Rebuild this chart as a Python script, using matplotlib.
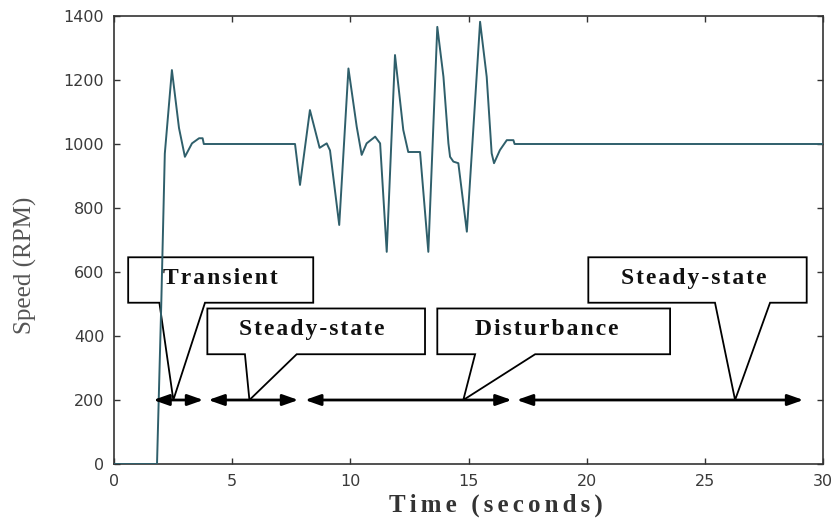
import matplotlib
matplotlib.use("Agg")
import matplotlib.pyplot as plt
from matplotlib.patches import Polygon

# ---- data ----
time_s = [0, 1.82, 2.0, 2.15, 2.45, 2.75, 3.0, 3.3, 3.6, 3.75, 3.8,
          7.66, 7.87, 8.29, 8.7, 9.0, 9.14, 9.53, 9.92, 10.27, 10.48, 10.69,
          11.05, 11.26, 11.54, 11.89, 12.24, 12.45, 12.95, 13.30, 13.68,
          13.94, 14.15, 14.22, 14.36, 14.57, 14.93, 15.49, 15.77, 15.98,
          16.08, 16.33, 16.62, 16.9, 16.95, 30]
speed_rpm = [0, 0, 500, 970, 1231, 1050, 960, 1002, 1018, 1018, 1000,
             1000, 872, 1106, 988, 1002, 980, 747, 1236, 1054, 966, 1002,
             1023, 1002, 663, 1278, 1044, 975, 975, 663, 1366,
             1210, 1002, 960, 945, 940, 726, 1382, 1210, 971,
             940, 981, 1012, 1012, 1000, 1000]

xticks = [0, 5, 10, 15, 20, 25, 30]
yticks = [0, 200, 400, 600, 800, 1000, 1200, 1400]

# region arrows at y=200: (start, end)
arrow_y = 200
arrow_spans = [(1.66, 3.78), (3.99, 7.80), (8.08, 16.83), (17.04, 29.17)]

# callouts: label, box (x0, x1, ybottom, ytop), wedge base (left, right), tip x
callout_labels = ["Transient", "Steady-state", "Disturbance", "Steady-state"]
callout_boxes = [(0.60, 8.43, 504, 646), (3.95, 13.16, 343, 486),
                 (13.68, 23.53, 343, 486), (20.07, 29.31, 504, 646)]
callout_wedges = [(1.92, 3.85), (5.54, 7.73), (15.28, 17.82), (25.43, 27.76)]
callout_tips = [2.51, 5.73, 14.78, 26.28]
callout_text_x = [4.51, 8.37, 18.3, 24.55]


def spaced(s, sep="\u200a"):
    return sep.join(s)


SERIF = ["Liberation Serif", "DejaVu Serif"]

# ---- figure ----
fig = plt.figure(figsize=(8.4, 5.3), dpi=100)
ax = fig.add_axes([114/840, 1-464/530, (823-114)/840, (464-16)/530])

ax.plot(time_s, speed_rpm, color="#2f5f6b", lw=1.4, zorder=3)

# arrows
for a, b in arrow_spans:
    ax.annotate("", xy=(b, arrow_y), xytext=(a, arrow_y),
                arrowprops=dict(arrowstyle="<|-|>,head_length=0.85,head_width=0.3",
                                color="black", lw=2.0, shrinkA=0, shrinkB=0,
                                mutation_scale=11), zorder=4)

# callouts
for lab, (x0, x1, yb, yt), (wl, wr), tx, lx in zip(callout_labels, callout_boxes,
                                                  callout_wedges, callout_tips,
                                                  callout_text_x):
    pts = [(x0, yt), (x1, yt), (x1, yb), (wr, yb), (tx, arrow_y), (wl, yb), (x0, yb)]
    poly = Polygon(pts, closed=True, fill=False, edgecolor="black", lw=1.3, zorder=2)
    ax.add_patch(poly)
    ax.text(lx, (yb + yt) / 2 + 5, spaced(lab), ha="center", va="center",
            family=SERIF, fontweight="bold", fontsize=17,
            color="#111111", zorder=5)

ax.set_xlim(0, 30)
ax.set_ylim(0, 1400)
ax.set_xticks(xticks)
ax.set_yticks(yticks)
ax.tick_params(direction="in", top=True, right=True, length=4, width=1,
               labelsize=11.5, colors="#333333", pad=7)
for lbl in ax.get_xticklabels() + ax.get_yticklabels():
    lbl.set_family("DejaVu Sans")
    lbl.set_color("#3a3a3a")
for s in ax.spines.values():
    s.set_color("#333333")
    s.set_linewidth(1.2)

ax.set_xlabel(spaced("Time (seconds)", "\u2006"), family=SERIF, fontweight="bold",
              fontsize=18, color="#333333")
ax.xaxis.set_label_coords(0.539, -0.065)
ax.set_ylabel("Speed (RPM)", family=SERIF, fontsize=18, color="#555555")
ax.yaxis.set_label_coords(-0.109, 0.444)

fig.savefig("out.png", dpi=100)
